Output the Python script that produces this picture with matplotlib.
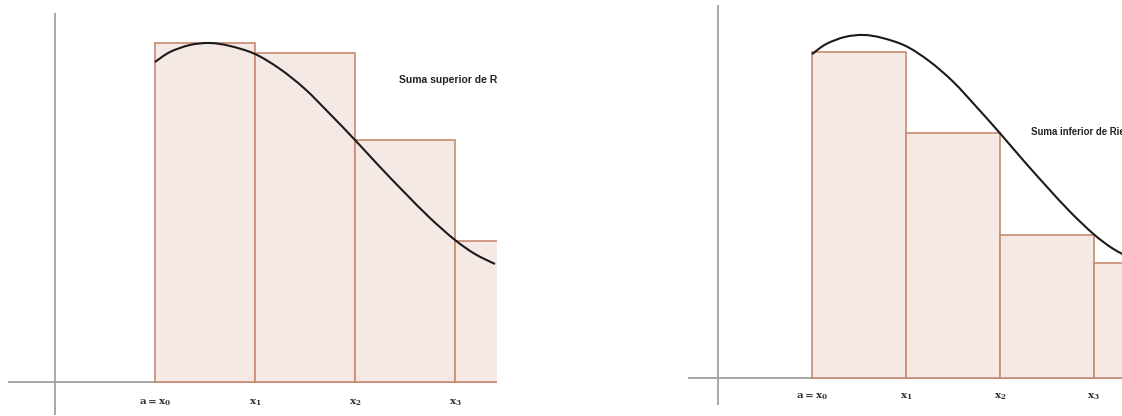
import numpy as np
import matplotlib
matplotlib.use('Agg')
import matplotlib.pyplot as plt
from matplotlib.path import Path
from matplotlib.patches import PathPatch

# Partition points a = x0 < x1 < x2 < x3 < x4
partition = [0, 1, 2, 3, 4]
tick_labels = [r'$\mathbf{a = x_0}$', r'$\mathbf{x_1}$', r'$\mathbf{x_2}$', r'$\mathbf{x_3}$']

# Curve f(x), points
curve_x = [0.0, 0.15, 0.35, 0.55, 0.75, 1.0, 1.25, 1.5, 1.75, 2.0,
           2.25, 2.5, 2.75, 3.0, 3.2, 3.4]
curve_y = [3.20, 3.30, 3.37, 3.39, 3.36, 3.28, 3.13, 2.93, 2.68, 2.42,
           2.15, 1.89, 1.64, 1.42, 1.28, 1.18]

# Rectangle heights (sup and inf of f on each subinterval)
upper_heights = [3.39, 3.29, 2.42, 1.41]
lower_heights = [3.22, 2.42, 1.41, 1.14]

fill = '#f5e9e5'
edge = '#c98a70'
axis_col = '#a0a0a0'

plt.rcParams['mathtext.fontset'] = 'dejavuserif'

fig = plt.figure(figsize=(11.22, 4.16), dpi=100)
W, H = 1122, 416


def smooth_path(xs, ys):
    # Catmull-Rom style bezier through the read points, so the line is not jagged
    pts = np.column_stack([xs, ys])
    verts = [pts[0]]
    codes = [Path.MOVETO]
    n = len(pts)
    for i in range(n - 1):
        p0 = pts[max(i - 1, 0)]
        p1 = pts[i]
        p2 = pts[i + 1]
        p3 = pts[min(i + 2, n - 1)]
        c1 = p1 + (p2 - p0) / 6.0
        c2 = p2 - (p3 - p1) / 6.0
        verts += [c1, c2, p2]
        codes += [Path.CURVE4] * 3
    return Path(verts, codes)


def panel(box, xlim, ylim, heights, label, label_pos, label_size, tick_y):
    x0, y0, x1, y1 = box  # pixel box: left, top, right, bottom
    ax = fig.add_axes([x0 / W, 1 - y1 / H, (x1 - x0) / W, (y1 - y0) / H])
    ax.set_xlim(*xlim)
    ax.set_ylim(*ylim)
    ax.axis('off')
    ax.axhline(0, color=axis_col, lw=1.3, zorder=1)
    ax.axvline(-1.0, color=axis_col, lw=1.3, zorder=1)
    ax.bar(partition[:-1], heights, width=1, align='edge', color=fill,
           edgecolor=edge, linewidth=1.2, zorder=2)
    ax.add_patch(PathPatch(smooth_path(curve_x, curve_y), facecolor='none',
                           edgecolor='#1a1a1a', lw=1.5, zorder=3))
    for px, lab in zip(partition[:-1], tick_labels):
        ax.text(px, tick_y, lab, ha='center', va='center', fontsize=7.5, color='#333333')
    ax.text(label_pos[0], label_pos[1], label, ha='left', va='center',
            fontsize=label_size, fontweight='bold', family='Liberation Sans',
            color='#222222', clip_on=True)
    return ax


# Left: upper Riemann sum
panel((8, 13, 497, 415), (-1.47, 3.42), (-0.33, 3.69), upper_heights,
      'Suma superior de Riemann', (2.44, 3.02), 7.5, -0.21)

# Right: lower Riemann sum
panel((688, 5, 1122, 405), (-1.32, 3.30), (-0.267, 3.686), lower_heights,
      'Suma inferior de Riemann', (2.33, 2.43), 6.9, -0.19)

fig.savefig('out.png', dpi=100)
